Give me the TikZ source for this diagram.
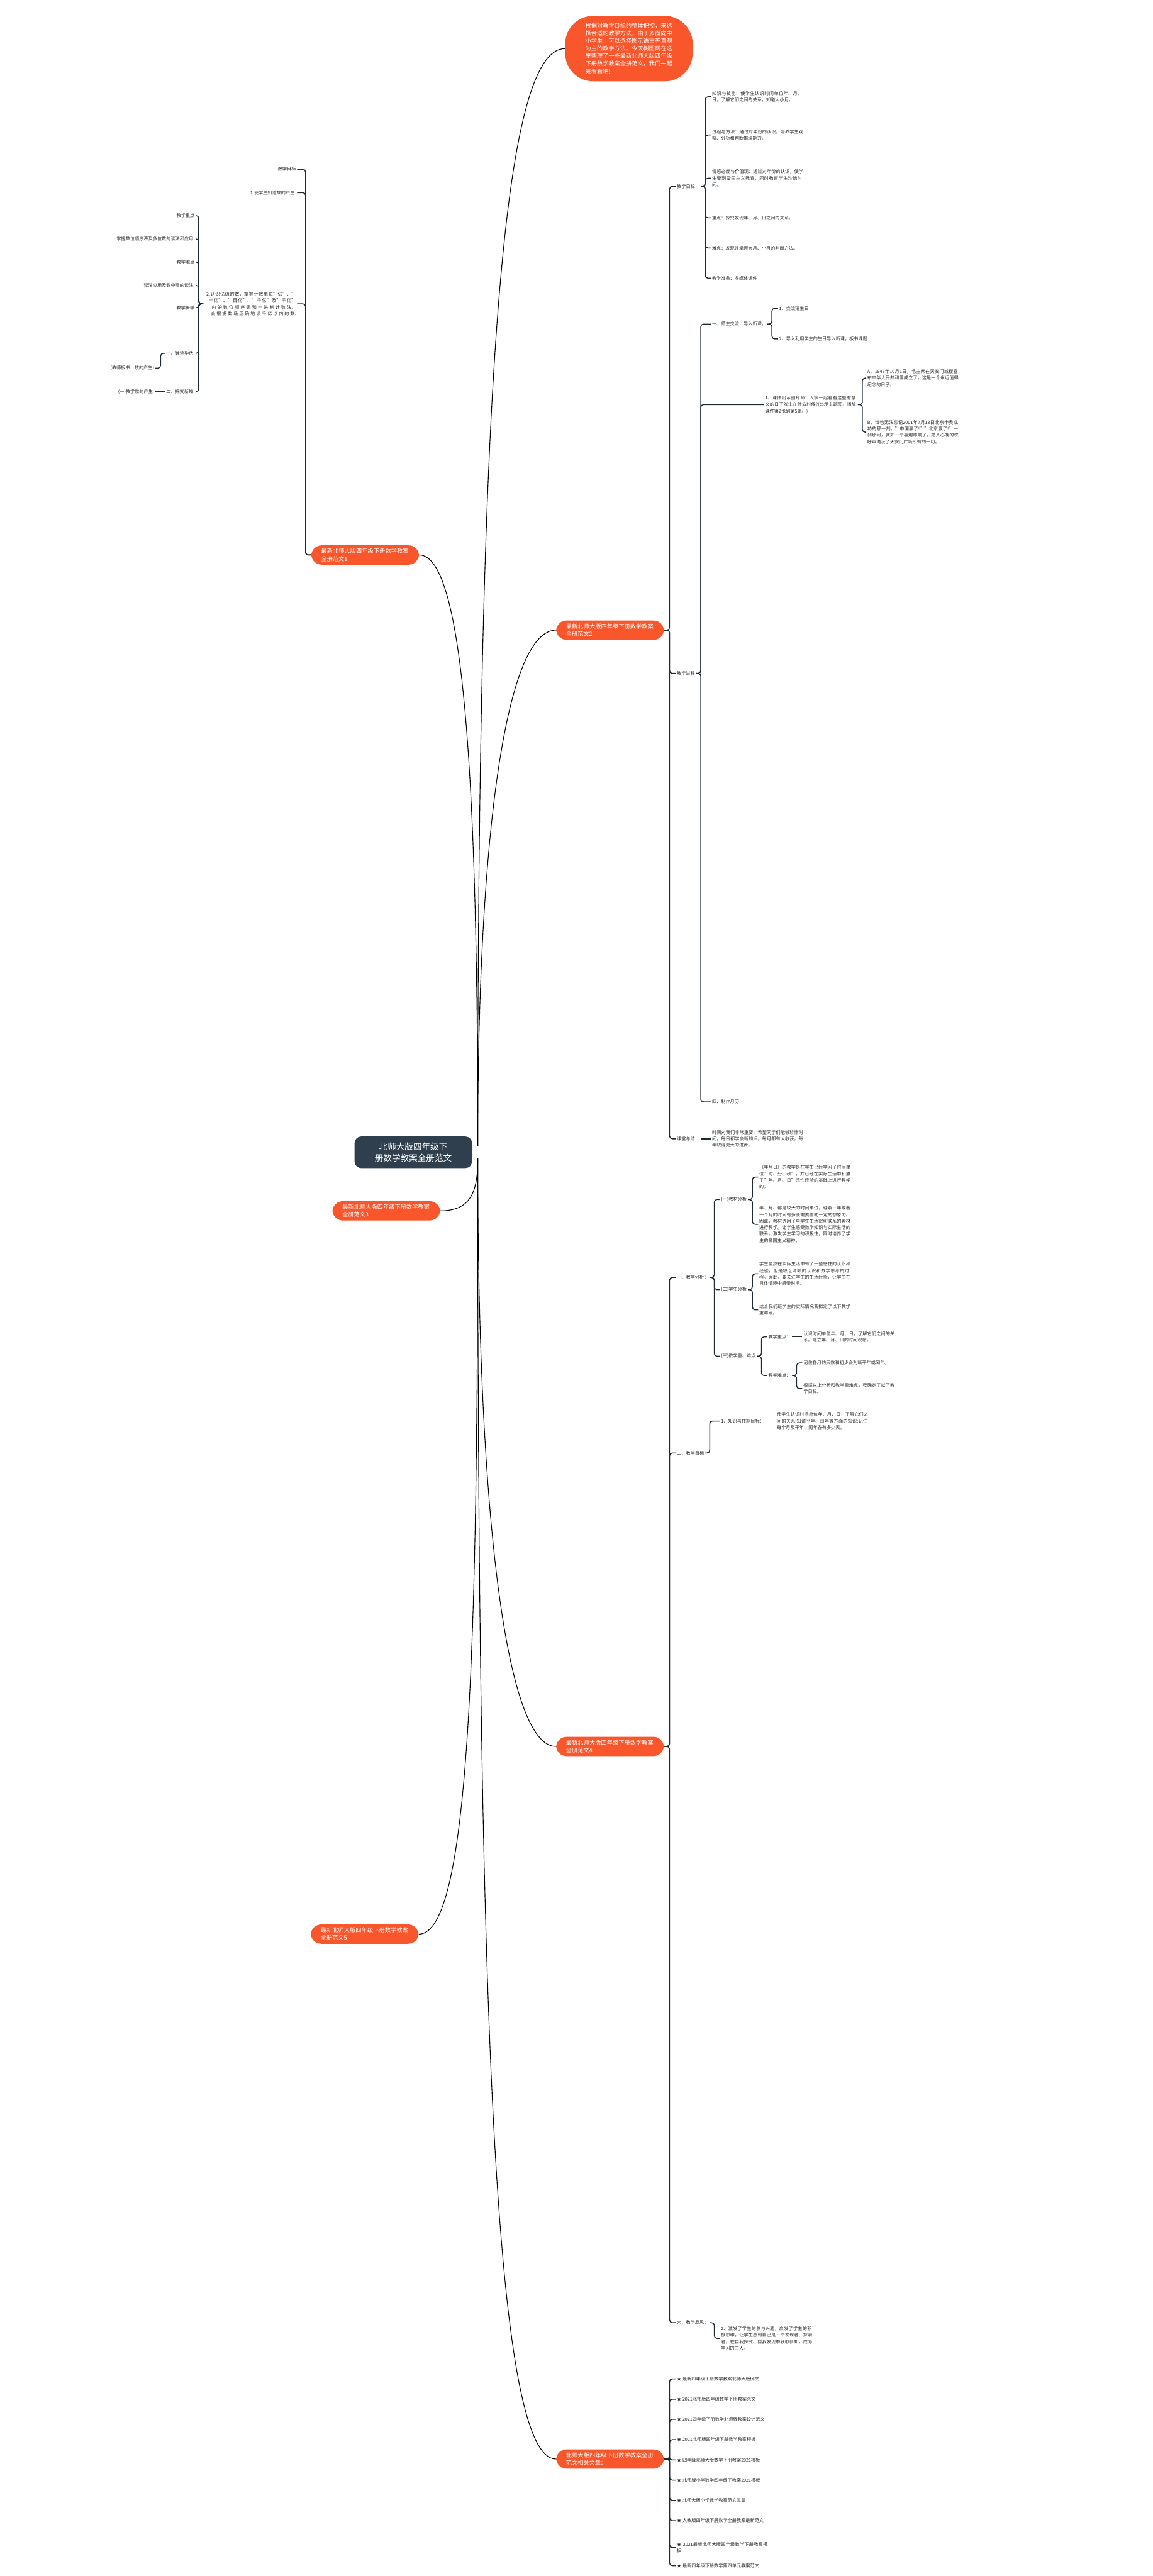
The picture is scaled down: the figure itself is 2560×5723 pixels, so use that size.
\documentclass[tikz,border=0pt]{standalone}
\usepackage{fontspec}
\setmainfont{Noto Sans CJK SC}
\XeTeXlinebreaklocale "zh"
\XeTeXlinebreakskip = 0pt plus 1pt
\usetikzlibrary{positioning, calc}
\definecolor{mapdark}{HTML}{2F3F4D}
\definecolor{maporange}{HTML}{F9562B}
\definecolor{mapline}{HTML}{1F2B33}
\tikzset{
  x=0.01cm, y=-0.01cm,
  rootbox/.style={rectangle, rounded corners=0.15cm, fill=mapdark, text=white, align=center,
                  font=\fontsize{5.4pt}{7pt}\selectfont, inner xsep=0.45cm, inner ysep=0.14cm},
  branch/.style={rectangle, rounded corners=0.23cm, fill=maporange, text=white, align=left,
                 text width=1.95cm, font=\fontsize{3.64pt}{4.8pt}\selectfont, inner xsep=0.22cm, inner ysep=0.07cm},
  leafr/.style={anchor=west, align=left, font=\fontsize{2.85pt}{4.1pt}\selectfont, text=black!85, inner sep=0.02cm},
  leafl/.style={leafr, anchor=east, align=right},
  trunk/.style={draw=black, line width=0.45pt},
  twig/.style={draw=mapline, line width=0.6pt, rounded corners=0.06cm},
}
\begin{document}
\begin{tikzpicture}
\useasboundingbox (0,0) rectangle (2560,5723);
% centre and main branches
\node[rootbox] (c) at (918,2560) {北师大版四年级下\\册数学教案全册范文};
\node[branch, text width=1.93cm, rounded corners=0.62cm, inner xsep=0.45cm, inner ysep=0.16cm] (t) at (1397,108)
  {根据对教学目标的整体把控，来选择合适的教学方法，由于多面向中小学生，可以选择图示语言等直观为主的教学方法。今天树图网在这里整理了一些最新北师大版四年级下册数学教案全册范文，我们一起来看看吧!};
\node[branch] (b1) at (811,1233) {最新北师大版四年级下册数学教案全册范文1};
\node[branch] (b2) at (1355,1400) {最新北师大版四年级下册数学教案全册范文2};
\node[branch] (b3) at (858,2690) {最新北师大版四年级下册数学教案全册范文3};
\node[branch] (b4) at (1355,3880) {最新北师大版四年级下册数学教案全册范文4};
\node[branch] (b5) at (810,4297) {最新北师大版四年级下册数学教案全册范文5};
\node[branch] (b6) at (1355,5463) {北师大版四年级下册数学教案全册范文相关文章：};

\coordinate (cup) at ($(c.east)+(12,-14)$);
\coordinate (cdn) at ($(c.east)+(12,14)$);
\draw[trunk] (cup) .. controls +(0,-1800) and +(-130,0) .. (t.west);
\draw[trunk] (cup) .. controls +(0,-700) and +(-110,0) .. (b2.west);
\draw[trunk] (cup) .. controls +(0,-800) and +(100,0) .. (b1.east);
\draw[trunk] (cdn) .. controls +(0,70) and +(70,0) .. (b3.east);
\draw[trunk] (cdn) .. controls +(0,800) and +(-110,0) .. (b4.west);
\draw[trunk] (cdn) .. controls +(0,1000) and +(120,0) .. (b5.east);
\draw[trunk] (cdn) .. controls +(0,2000) and +(-130,0) .. (b6.west);

% branch 2
\node[leafr] (b2a) at (1501,414) {教学目标：};
\node[leafr, text width=2.03cm] (b2a1) at (1579,215) {知识与技能：使学生认识时间单位年、月、日，了解它们之间的关系，知道大小月。};
\node[leafr, text width=2.03cm] (b2a2) at (1579,300) {过程与方法：通过对年份的认识，培养学生观察、分析和判断推理能力。};
\node[leafr, text width=2.03cm] (b2a3) at (1579,396) {情感态度与价值观：通过对年份的认识，使学生受到爱国主义教育，同时教育学生珍惜时间。};
\node[leafr] (b2a4) at (1579,484) {重点：探究发现年、月、日之间的关系。};
\node[leafr] (b2a5) at (1579,551) {难点：发现并掌握大月、小月的判断方法。};
\node[leafr] (b2a6) at (1579,618) {教学准备：多媒体课件};
\node[leafr] (b2b) at (1501,1496) {教学过程};
\node[leafr] (b2b1) at (1579,720) {一、师生交流，导入新课。};
\node[leafr] (b2b11) at (1728,685) {1、交流猜生日};
\node[leafr] (b2b12) at (1728,753) {2、导入利用学生的生日导入新课，板书课题};
\node[leafr, text width=2.03cm] (b2b21) at (1697,899) {1、课件出示图片师：大家一起看看这些有意义的日子发生在什么时候?(出示主题图，播放课件第2张到第5张。)};
\node[leafr, text width=2.03cm] (b2b211) at (1924,840) {A、1949年10月1日，毛主席在天安门城楼宣布中华人民共和国成立了，这是一个永远值得纪念的日子。};
\node[leafr, text width=2.03cm] (b2b212) at (1924,960) {B、谁也无法忘记2001年7月13日北京申奥成功的那一刻。"中国赢了!""北京赢了!"一刹那间，就如一个喜炮炸响了，撼人心魄的欢呼声淹没了天安门广场所有的一切。};
\node[leafr] (b2b4) at (1579,2448) {四、制作月历};
\node[leafr] (b2c) at (1501,2530) {课堂总结：};
\node[leafr, text width=2.03cm] (b2c1) at (1579,2530) {时间对我们非常重要，希望同学们能够珍惜时间，每日都学会新知识，每月都有大收获，每年取得更大的进步。};
\foreach \k in {b2a,b2b,b2c} \draw[twig] (b2.east) -- ++(12,0) |- (\k.west);
\foreach \k in {b2a1,b2a2,b2a3,b2a4,b2a5,b2a6} \draw[twig] (b2a.east) -- ++(10,0) |- (\k.west);
\foreach \k in {b2b1,b2b4} \draw[twig] (b2b.east) -- ++(10,0) |- (\k.west);
\draw[twig] ($(b2b.east)+(10,0)$) |- (b2b21.west);
\foreach \k in {b2b11,b2b12} \draw[twig] (b2b1.east) -- ++(10,0) |- (\k.west);
\foreach \k in {b2b211,b2b212} \draw[twig] (b2b21.east) -- ++(10,0) |- (\k.west);
\draw[twig] (b2c.east) -- (b2c1.west);

% branch 4
\node[leafr] (b4a) at (1501,2838) {一、教学分析：};
\node[leafr] (b4a1) at (1599,2665) {(一)教材分析};
\node[leafr, text width=2.03cm] (b4a11) at (1684,2615) {《年月日》的教学是在学生已经学习了时间单位"时、分、秒"，并已经在实际生活中积累了"年、月、日"感性经验的基础上进行教学的。};
\node[leafr, text width=2.03cm] (b4a12) at (1684,2720) {年、月、都是较大的时间单位，理解一年或者一个月的时间有多长需要借助一定的想象力。因此，教材选用了与学生生活密切联系的素材进行教学。让学生感受数学知识与实际生活的联系，激发学生学习的积极性，同时培养了学生的爱国主义精神。};
\node[leafr] (b4a2) at (1599,2865) {(二)学生分析};
\node[leafr, text width=2.03cm] (b4a21) at (1684,2830) {学生虽然在实际生活中有了一些感性的认识和经验，但是缺乏清晰的认识和数学思考的过程。因此，要关注学生的生活经验，让学生在具体情境中感受时间。};
\node[leafr, text width=2.03cm] (b4a22) at (1684,2910) {结合我们班学生的实际情况我拟定了以下教学重难点。};
\node[leafr] (b4a3) at (1599,3013) {(三)教学重、难点};
\node[leafr] (b4a31) at (1704,2970) {教学重点：};
\node[leafr, text width=2.03cm] (b4a311) at (1782,2970) {认识时间单位年、月、日，了解它们之间的关系。建立年、月、日的时间观念。};
\node[leafr] (b4a32) at (1704,3056) {教学难点：};
\node[leafr] (b4a321) at (1782,3028) {记住各月的天数和初步会判断平年或闰年。};
\node[leafr, text width=2.03cm] (b4a322) at (1782,3085) {根据以上分析和教学重难点，我确定了以下教学目标。};
\node[leafr] (b4b) at (1501,3228) {二、教学目标};
\node[leafr] (b4b1) at (1599,3157) {1、知识与技能目标：};
\node[leafr, text width=2.03cm] (b4b11) at (1723,3157) {使学生认识时间单位年、月、日，了解它们之间的关系;知道平年、闰年等方面的知识;记住每个月及平年、闰年各有多少天。};
\node[leafr] (b4f) at (1501,5160) {六、教学反思：};
\node[leafr, text width=2.03cm] (b4f2) at (1599,5195) {2、激发了学生的参与兴趣，启发了学生的积极思维，让学生感到自己是一个发现者、探索者，在自我探究、自我发现中获取新知，成为学习的主人。};
\foreach \k in {b4a,b4b,b4f} \draw[twig] (b4.east) -- ++(12,0) |- (\k.west);
\foreach \k in {b4a1,b4a2,b4a3} \draw[twig] (b4a.east) -- ++(10,0) |- (\k.west);
\foreach \k in {b4a11,b4a12} \draw[twig] (b4a1.east) -- ++(10,0) |- (\k.west);
\foreach \k in {b4a21,b4a22} \draw[twig] (b4a2.east) -- ++(10,0) |- (\k.west);
\foreach \k in {b4a31,b4a32} \draw[twig] (b4a3.east) -- ++(10,0) |- (\k.west);
\draw[twig] (b4a31.east) -- (b4a311.west);
\foreach \k in {b4a321,b4a322} \draw[twig] (b4a32.east) -- ++(10,0) |- (\k.west);
\draw[twig] (b4b.east) -- ++(10,0) |- (b4b1.west);
\draw[twig] (b4b1.east) -- (b4b11.west);
\draw[twig] (b4f.east) -- ++(10,0) |- (b4f2.west);

% related articles
\foreach \i/\s in {1/最新四年级下册数学教案北师大版例文, 2/2021北师版四年级数学下册教案范文,
  3/2021四年级下册数学北师版教案设计范文, 4/2021北师版四年级下册数学教案模板,
  5/四年级北师大版数学下册教案2021模板, 6/北师版小学数学四年级下教案2021模板,
  7/北师大版小学数学教案范文五篇, 8/人教版四年级下册数学全册教案最新范文}
  \node[leafr] (r\i) at (1501,5240+45*\i) {★ \s};
\node[leafr, text width=2.03cm] (r9) at (1501,5660) {★ 2021最新北师大版四年级数学下册教案模板};
\node[leafr] (r10) at (1501,5700) {★ 最新四年级下册数学第四单元教案范文};
\foreach \i in {1,...,10} \draw[twig] (b6.east) -- ++(12,0) |- (r\i.west);

% branch 1 (left)
\node[leafl] (b1a) at (660,376) {教学目标};
\node[leafl] (b1b) at (660,428) {1.使学生知道数的产生.};
\node[leafl, text width=2.03cm] (b1c) at (660,675) {2.认识亿级的数，掌握计数单位"亿"、"十亿"、"百亿"、"千亿"及"千亿"内的数位顺序表和十进制计数法，会根据数级正确地读千亿以内的数.};
\node[leafl] (b1c1) at (435,479) {教学重点};
\node[leafl] (b1c2) at (435,531) {掌握数位顺序表及多位数的读法和应用.};
\node[leafl] (b1c3) at (435,582) {教学难点};
\node[leafl] (b1c4) at (435,634) {读法应用及数中零的读法.};
\node[leafl] (b1c5) at (435,684) {教学步骤};
\node[leafl] (b1c6) at (435,785) {一、铺垫孕伏.};
\node[leafl] (b1c61) at (345,818) {(教师板书：数的产生)};
\node[leafl] (b1c7) at (435,870) {二、探究新知.};
\node[leafl] (b1c71) at (345,870) {(一)教学数的产生.};
\foreach \k in {b1a,b1b,b1c} \draw[twig] (b1.west) -- ++(-12,0) |- (\k.east);
\foreach \k in {b1c1,b1c2,b1c3,b1c4,b1c5,b1c6,b1c7} \draw[twig] (b1c.west) -- ++(-10,0) |- (\k.east);
\draw[twig] (b1c6.west) -- ++(-10,0) |- (b1c61.east);
\draw[twig] (b1c7.west) -- (b1c71.east);
\end{tikzpicture}
\end{document}
